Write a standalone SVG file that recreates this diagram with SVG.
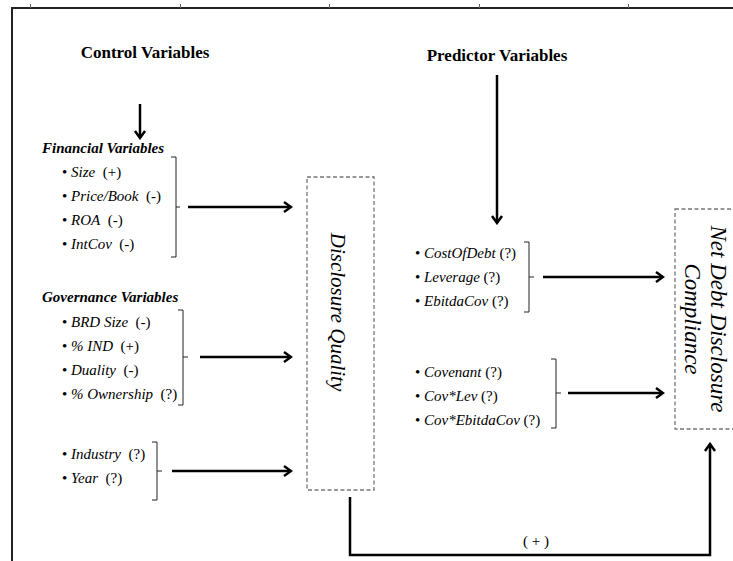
<svg xmlns="http://www.w3.org/2000/svg" width="733" height="561" viewBox="0 0 733 561">
<style>
text{font-family:"Liberation Serif","Times New Roman",serif;fill:#000}
.hd{font-weight:bold;font-size:17px}
.gt{font-weight:bold;font-style:italic;font-size:15px}
.it{font-size:15px}
.v{font-style:italic}
.big{font-style:italic;font-size:21px}
.nd{font-style:italic;font-size:23px}
.br{fill:none;stroke:#222;stroke-width:1}
.box{fill:none;stroke:#777;stroke-width:1.3;stroke-dasharray:4 2.5}
.cn{fill:none;stroke:#000;stroke-width:2.5}
.frame{fill:none;stroke:#222;stroke-width:2}
.tick{stroke:#666;stroke-width:1}
</style>
<defs>
<marker id="ah" viewBox="-10 -7 12 14" refX="0" refY="0" markerWidth="12" markerHeight="14" markerUnits="userSpaceOnUse" orient="auto">
<path d="M-7,-5 L0,0 L-7,5" fill="none" stroke="#000" stroke-width="2.5"/>
</marker>
</defs>
<rect width="733" height="561" fill="#fff"/>
<g id="frame">
<path class="frame" d="M12,561 V8 H733"/>
<line class="tick" x1="30.5" y1="4" x2="30.5" y2="8"/>
<line class="tick" x1="180.5" y1="4" x2="180.5" y2="8"/>
<line class="tick" x1="329.5" y1="4" x2="329.5" y2="8"/>
<line class="tick" x1="479.5" y1="4" x2="479.5" y2="8"/>
<line class="tick" x1="628.5" y1="4" x2="628.5" y2="8"/>
</g>
<g id="control-variables"><text class="hd" x="145" y="58" text-anchor="middle">Control Variables</text></g>
<g id="predictor-variables"><text class="hd" x="497" y="61" text-anchor="middle">Predictor Variables</text></g>
<g id="financial-variables">
<text class="gt" x="42" y="153">Financial Variables</text>
<text class="it" x="62" y="177" xml:space="preserve">• <tspan class="v">Size</tspan>  (+)</text>
<text class="it" x="62" y="201" xml:space="preserve">• <tspan class="v">Price/Book</tspan>  (-)</text>
<text class="it" x="62" y="225" xml:space="preserve">• <tspan class="v">ROA</tspan>  (-)</text>
<text class="it" x="62" y="249" xml:space="preserve">• <tspan class="v">IntCov</tspan>  (-)</text>
<path class="br" d="M171,157 H176 V257 H171 M176,207 H180"/>
</g>
<g id="governance-variables">
<text class="gt" x="42" y="302">Governance Variables</text>
<text class="it" x="62" y="327" xml:space="preserve">• <tspan class="v">BRD Size</tspan>  (-)</text>
<text class="it" x="62" y="351" xml:space="preserve">• <tspan class="v">% IND</tspan>  (+)</text>
<text class="it" x="62" y="375" xml:space="preserve">• <tspan class="v">Duality</tspan>  (-)</text>
<text class="it" x="62" y="399" xml:space="preserve">• <tspan class="v">% Ownership</tspan>  (?)</text>
<path class="br" d="M178,310 H183 V405 H178 M183,357 H188"/>
</g>
<g id="industry-year">
<text class="it" x="62" y="459" xml:space="preserve">• <tspan class="v">Industry</tspan>  (?)</text>
<text class="it" x="62" y="483" xml:space="preserve">• <tspan class="v">Year</tspan>  (?)</text>
<path class="br" d="M152,442 H157 V500 H152 M157,471 H162"/>
</g>
<g id="disclosure-quality">
<rect class="box" x="307" y="177" width="67" height="313"/>
<text class="big" transform="translate(331,312) rotate(90)" text-anchor="middle">Disclosure Quality</text>
</g>
<g id="predictors-1">
<text class="it" x="415" y="258" xml:space="preserve">• <tspan class="v">CostOfDebt</tspan> (?)</text>
<text class="it" x="415" y="282" xml:space="preserve">• <tspan class="v">Leverage</tspan> (?)</text>
<text class="it" x="415" y="306" xml:space="preserve">• <tspan class="v">EbitdaCov</tspan> (?)</text>
<path class="br" d="M524,242 H529 V312 H524 M529,277 H534"/>
</g>
<g id="predictors-2">
<text class="it" x="415" y="377" xml:space="preserve">• <tspan class="v">Covenant</tspan> (?)</text>
<text class="it" x="415" y="401" xml:space="preserve">• <tspan class="v">Cov*Lev</tspan> (?)</text>
<text class="it" x="415" y="425" xml:space="preserve">• <tspan class="v">Cov*EbitdaCov</tspan> (?)</text>
<path class="br" d="M551,359 H556 V428 H551 M556,393 H561"/>
</g>
<g id="net-debt-disclosure-compliance">
<rect class="box" x="675" y="209" width="70" height="220"/>
<text class="nd" transform="translate(711,319) rotate(90)" text-anchor="middle">Net Debt Disclosure</text>
<text class="nd" transform="translate(685,319) rotate(90)" text-anchor="middle">Compliance</text>
</g>
<g id="connectors">
<line class="cn" x1="140" y1="104" x2="140" y2="138" marker-end="url(#ah)"/>
<line class="cn" x1="497" y1="75" x2="497" y2="223" marker-end="url(#ah)"/>
<line class="cn" x1="188" y1="207" x2="291" y2="207" marker-end="url(#ah)"/>
<line class="cn" x1="200" y1="357" x2="291" y2="357" marker-end="url(#ah)"/>
<line class="cn" x1="172" y1="471" x2="291" y2="471" marker-end="url(#ah)"/>
<line class="cn" x1="543" y1="277" x2="663" y2="277" marker-end="url(#ah)"/>
<line class="cn" x1="568" y1="393" x2="663" y2="393" marker-end="url(#ah)"/>
<polyline class="cn" points="350,497 350,555 710,555 710,444" marker-end="url(#ah)"/>
<text class="it" font-size="16" x="536" y="546" text-anchor="middle" xml:space="preserve">( + )</text>
</g>
</svg>
